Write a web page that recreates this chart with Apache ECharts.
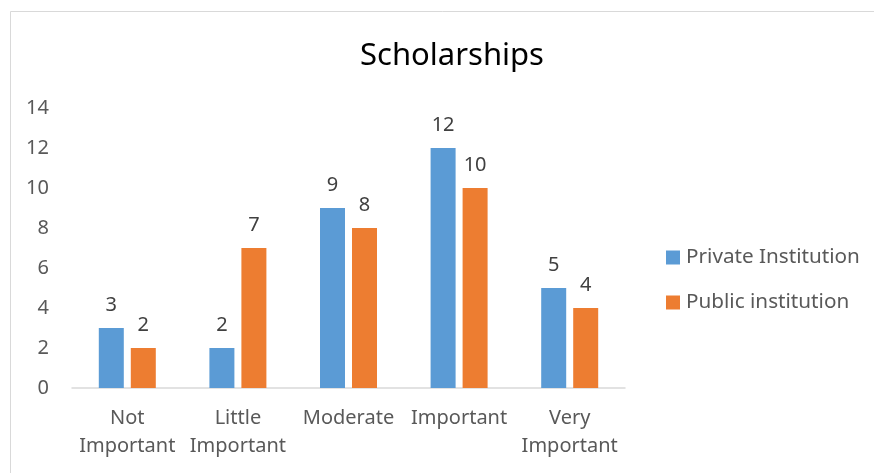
<!DOCTYPE html>
<html>
<head>
<meta charset="utf-8">
<script src="https://cdn.jsdelivr.net/npm/echarts@6/dist/echarts.min.js"></script>
<style>
html,body{margin:0;padding:0;background:#fff;}
#chart{width:874px;height:473px;}
</style>
</head>
<body>
<div id="chart"></div>
<script>
const categories = ['Not\nImportant', 'Little\nImportant', 'Moderate', 'Important', 'Very\nImportant'];
const privateValues = [3, 2, 9, 12, 5];
const publicValues = [2, 7, 8, 10, 4];
const seriesNames = ['Private Institution', 'Public institution'];
const yTicks = { min: 0, max: 14, interval: 2 };

const FONT = 'Noto Sans';
const chart = echarts.init(document.getElementById('chart'), null, { renderer: 'canvas' });
chart.setOption({
  backgroundColor: '#ffffff',
  animation: false,
  textStyle: { fontFamily: FONT },
  title: {
    text: 'Scholarships',
    left: 447, top: 36, textAlign: 'center',
    textStyle: { fontFamily: FONT, fontSize: 31, fontWeight: 'normal', color: '#000000' }
  },
  graphic: [{
    type: 'rect', left: 8, top: 9, silent: true,
    shape: { width: 900, height: 500 },
    style: { fill: 'none', stroke: '#d9d9d9', lineWidth: 1 }
  }],
  legend: {
    orient: 'vertical', left: 666, top: 247, padding: 0,
    itemWidth: 14, itemHeight: 14, itemGap: 24,
    icon: 'rect',
    textStyle: { fontFamily: FONT, fontSize: 20.7, color: '#595959', padding: [0, 0, 0, 1] },
    data: seriesNames
  },
  grid: { left: 72, right: 249, top: 108, bottom: 85, containLabel: false },
  xAxis: {
    type: 'category',
    data: categories,
    axisLine: { lineStyle: { color: '#d9d9d9', width: 1.5 } },
    axisTick: { show: false },
    axisLabel: { fontFamily: FONT, fontSize: 20, color: '#595959', lineHeight: 28, margin: 16, interval: 0 }
  },
  yAxis: {
    type: 'value',
    min: yTicks.min, max: yTicks.max, interval: yTicks.interval,
    axisLine: { show: false },
    axisTick: { show: false },
    splitLine: { show: false },
    axisLabel: { fontFamily: FONT, fontSize: 20, color: '#595959', margin: 23 }
  },
  series: [
    {
      name: seriesNames[0], type: 'bar', data: privateValues,
      barWidth: 25, barGap: '28%',
      itemStyle: { color: '#5b9bd5' },
      label: { show: true, position: 'top', distance: 13, fontFamily: FONT, fontSize: 20, color: '#404040' }
    },
    {
      name: seriesNames[1], type: 'bar', data: publicValues,
      barWidth: 25,
      itemStyle: { color: '#ed7d31' },
      label: { show: true, position: 'top', distance: 13, fontFamily: FONT, fontSize: 20, color: '#404040' }
    }
  ]
});
</script>
</body>
</html>
